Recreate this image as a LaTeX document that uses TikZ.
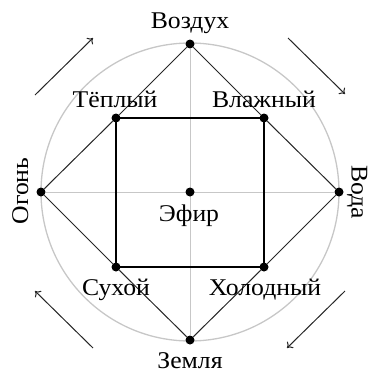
\documentclass[tikz,border=0pt]{standalone}
\usepackage{fontspec}
\setmainfont{Liberation Serif}[FakeStretch=1.07]
\usetikzlibrary{arrows.meta}
\begin{document}
\begin{tikzpicture}[x=1pt,y=-1pt,
  dotpt/.style={circle,fill=black,inner sep=0pt,minimum size=9pt},
  lbl/.style={font=\fontsize{24}{26}\selectfont,inner sep=0pt,anchor=base},
  edge/.style={draw=black!85,line width=1pt},
  sq/.style={draw=black,line width=1.6pt},
  axis/.style={draw=black!22,line width=1pt},
  rim/.style={draw=black!22,line width=1.3pt},
  flow/.style={draw=black!85,line width=1pt,-{To[length=5pt,width=9pt]}}]
\useasboundingbox (0,0) rectangle (369,372);
\coordinate (c) at (190,192);
\draw[rim] (c) circle (149);
\node[dotpt] (air) at (190,44) {};
\node[dotpt] (earth) at (190,340) {};
\node[dotpt] (fire) at (41,192) {};
\node[dotpt] (water) at (339,192) {};
\node[dotpt] (warm) at (116,118) {};
\node[dotpt] (wet) at (264,118) {};
\node[dotpt] (dry) at (116,267) {};
\node[dotpt] (cold) at (264,267) {};
\draw[axis] (fire) -- (water);
\draw[axis] (air) -- (earth);
\node[dotpt] (ether) at (c) {};
\draw[sq] (warm.center) -- (wet.center) -- (cold.center) -- (dry.center) -- cycle;
\draw[edge] (air) -- (warm) (air) -- (wet) (fire) -- (warm) (fire) -- (dry)
  (water) -- (wet) (water) -- (cold) (earth) -- (dry) (earth) -- (cold);
\node[lbl] (tair) at (190,28) {Воздух};
\node[lbl] (tearth) at (190,368) {Земля};
\node[lbl] (tether) at (189,221) {Эфир};
\node[lbl] (twarm) at (115,107) {Тёплый};
\node[lbl] (twet) at (264,107) {Влажный};
\node[lbl] (tdry) at (116,295) {Сухой};
\node[lbl] (tcold) at (265,295) {Холодный};
\node[lbl,rotate=90] (tfire) at (28,191) {Огонь};
\node[lbl,rotate=-90,text height=16pt] (twater) at (351.5,192) {Вода};
\coordinate (a1s) at (35,95); \coordinate (a1e) at (93,38);
\coordinate (a2s) at (288,38); \coordinate (a2e) at (345,94);
\coordinate (a3s) at (93,348); \coordinate (a3e) at (35,291);
\coordinate (a4s) at (345,291); \coordinate (a4e) at (287,348);
\draw[flow] (a1s) -- (a1e);
\draw[flow] (a2s) -- (a2e);
\draw[flow] (a3s) -- (a3e);
\draw[flow] (a4s) -- (a4e);
\end{tikzpicture}
\end{document}
